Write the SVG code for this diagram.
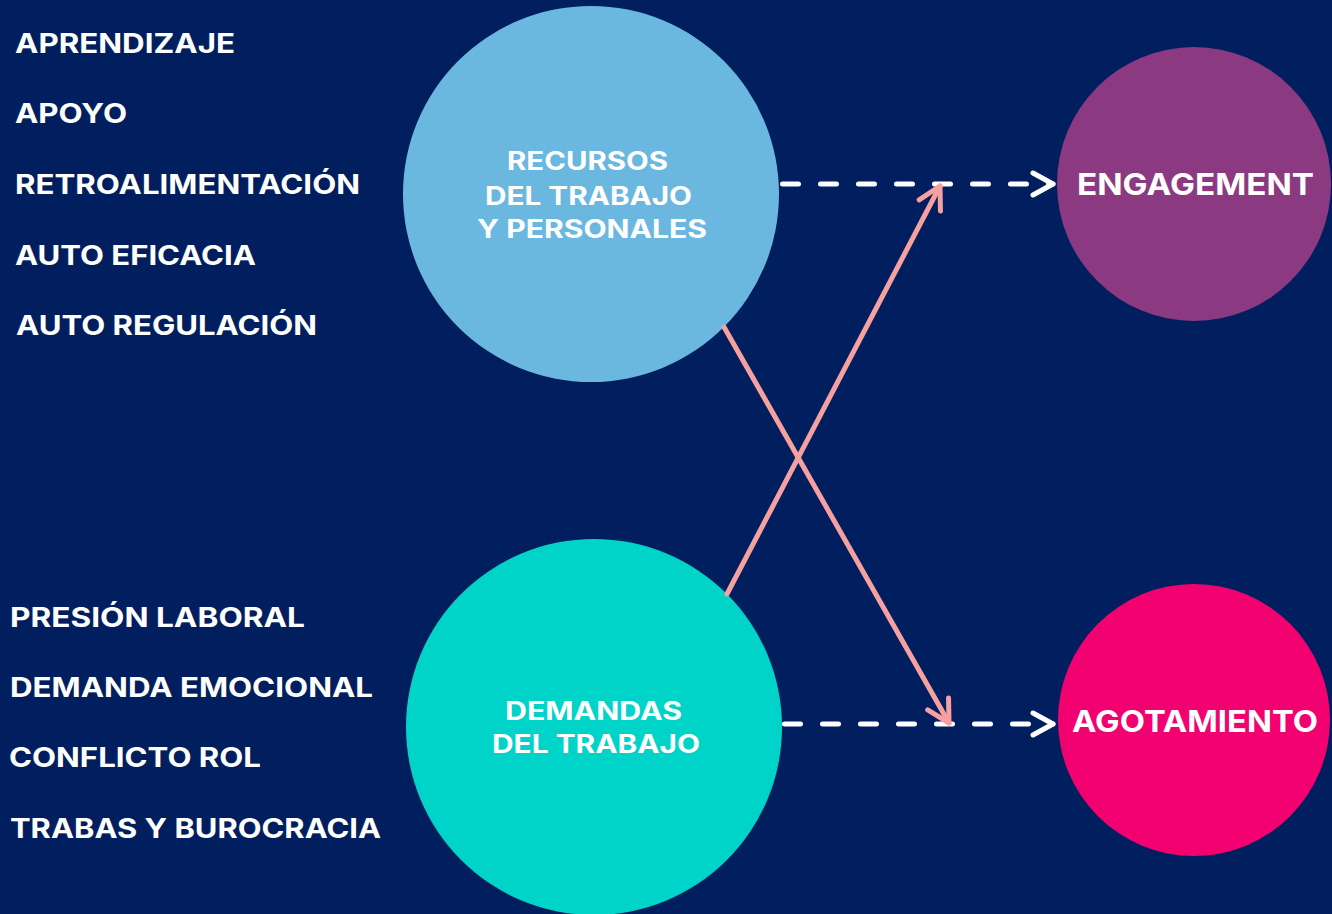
<svg xmlns="http://www.w3.org/2000/svg" width="1332" height="914" viewBox="0 0 1332 914">
  <style>
    .lbl { font-family: Inter, "Open Sans", "Liberation Sans", sans-serif; font-weight: 700; fill: #ffffff; }
    .list { font-size: 27px; }
    .inner { font-size: 25px; }
    .big { font-size: 30px; }
    .dash { fill: none; stroke: #ffffff; stroke-width: 5; stroke-linecap: round; stroke-dasharray: 16 22; }
    .pink { fill: none; stroke: #F6A19F; stroke-width: 5; stroke-linecap: round; }
  </style>
  <defs>
    <marker id="whiteHead" markerUnits="userSpaceOnUse" markerWidth="40" markerHeight="40" viewBox="-30 -20 40 40" refX="0" refY="0" orient="auto">
      <path d="M-20,-11 L0,0 L-20,11" fill="none" stroke="#ffffff" stroke-width="5" stroke-linecap="round" stroke-linejoin="round" stroke-dasharray="none"/>
    </marker>
    <marker id="pinkHead" markerUnits="userSpaceOnUse" markerWidth="40" markerHeight="40" viewBox="-30 -20 40 40" refX="0" refY="0" orient="auto">
      <path d="M-22,-12 L0,0 L-22,12" fill="none" stroke="#F6A19F" stroke-width="5" stroke-linecap="round" stroke-linejoin="round"/>
    </marker>
  </defs>
  <rect width="1332" height="914" fill="#011F5E"/>

  <g id="recursos-list">
    <text class="lbl list" x="15" y="53" textLength="220" lengthAdjust="spacingAndGlyphs">APRENDIZAJE</text>
    <text class="lbl list" x="15" y="123" textLength="112" lengthAdjust="spacingAndGlyphs">APOYO</text>
    <text class="lbl list" x="15" y="194" textLength="345" lengthAdjust="spacingAndGlyphs">RETROALIMENTACIÓN</text>
    <text class="lbl list" x="15" y="265" textLength="241" lengthAdjust="spacingAndGlyphs">AUTO EFICACIA</text>
    <text class="lbl list" x="16" y="335" textLength="301" lengthAdjust="spacingAndGlyphs">AUTO REGULACIÓN</text>
  </g>

  <g id="demandas-list">
    <text class="lbl list" x="10" y="627" textLength="295" lengthAdjust="spacingAndGlyphs">PRESIÓN LABORAL</text>
    <text class="lbl list" x="10" y="697" textLength="363" lengthAdjust="spacingAndGlyphs">DEMANDA EMOCIONAL</text>
    <text class="lbl list" x="9" y="767" textLength="252" lengthAdjust="spacingAndGlyphs">CONFLICTO ROL</text>
    <text class="lbl list" x="10" y="838" textLength="371" lengthAdjust="spacingAndGlyphs">TRABAS Y BUROCRACIA</text>
  </g>

  <g id="recursos">
    <circle cx="591" cy="194" r="188" fill="#6AB7E0"/>
    <text class="lbl inner" x="507" y="170" textLength="161" lengthAdjust="spacingAndGlyphs">RECURSOS</text>
    <text class="lbl inner" x="485" y="205" textLength="207" lengthAdjust="spacingAndGlyphs">DEL TRABAJO</text>
    <text class="lbl inner" x="477" y="238" textLength="230" lengthAdjust="spacingAndGlyphs">Y PERSONALES</text>
  </g>

  <g id="demandas">
    <circle cx="594" cy="727" r="188" fill="#00D4C8"/>
    <text class="lbl inner" x="505" y="720" textLength="177" lengthAdjust="spacingAndGlyphs">DEMANDAS</text>
    <text class="lbl inner" x="492" y="753" textLength="208" lengthAdjust="spacingAndGlyphs">DEL TRABAJO</text>
  </g>

  <g id="engagement">
    <circle cx="1194" cy="184" r="137" fill="#8B3A82"/>
    <text class="lbl big" x="1077" y="195" textLength="237" lengthAdjust="spacingAndGlyphs">ENGAGEMENT</text>
  </g>

  <g id="agotamiento">
    <circle cx="1194" cy="720" r="136" fill="#F20270"/>
    <text class="lbl big" x="1072" y="732" textLength="246" lengthAdjust="spacingAndGlyphs">AGOTAMIENTO</text>
  </g>

  <g id="connectors">
    <path class="dash" d="M782.5,184 L1053,184" marker-end="url(#whiteHead)"/>
    <path class="dash" d="M784.5,724 L1053,724" marker-end="url(#whiteHead)"/>
    <path class="pink" d="M724,327 L949,723" marker-end="url(#pinkHead)"/>
    <path class="pink" d="M727,594 L940,186" marker-end="url(#pinkHead)"/>
  </g>
</svg>
